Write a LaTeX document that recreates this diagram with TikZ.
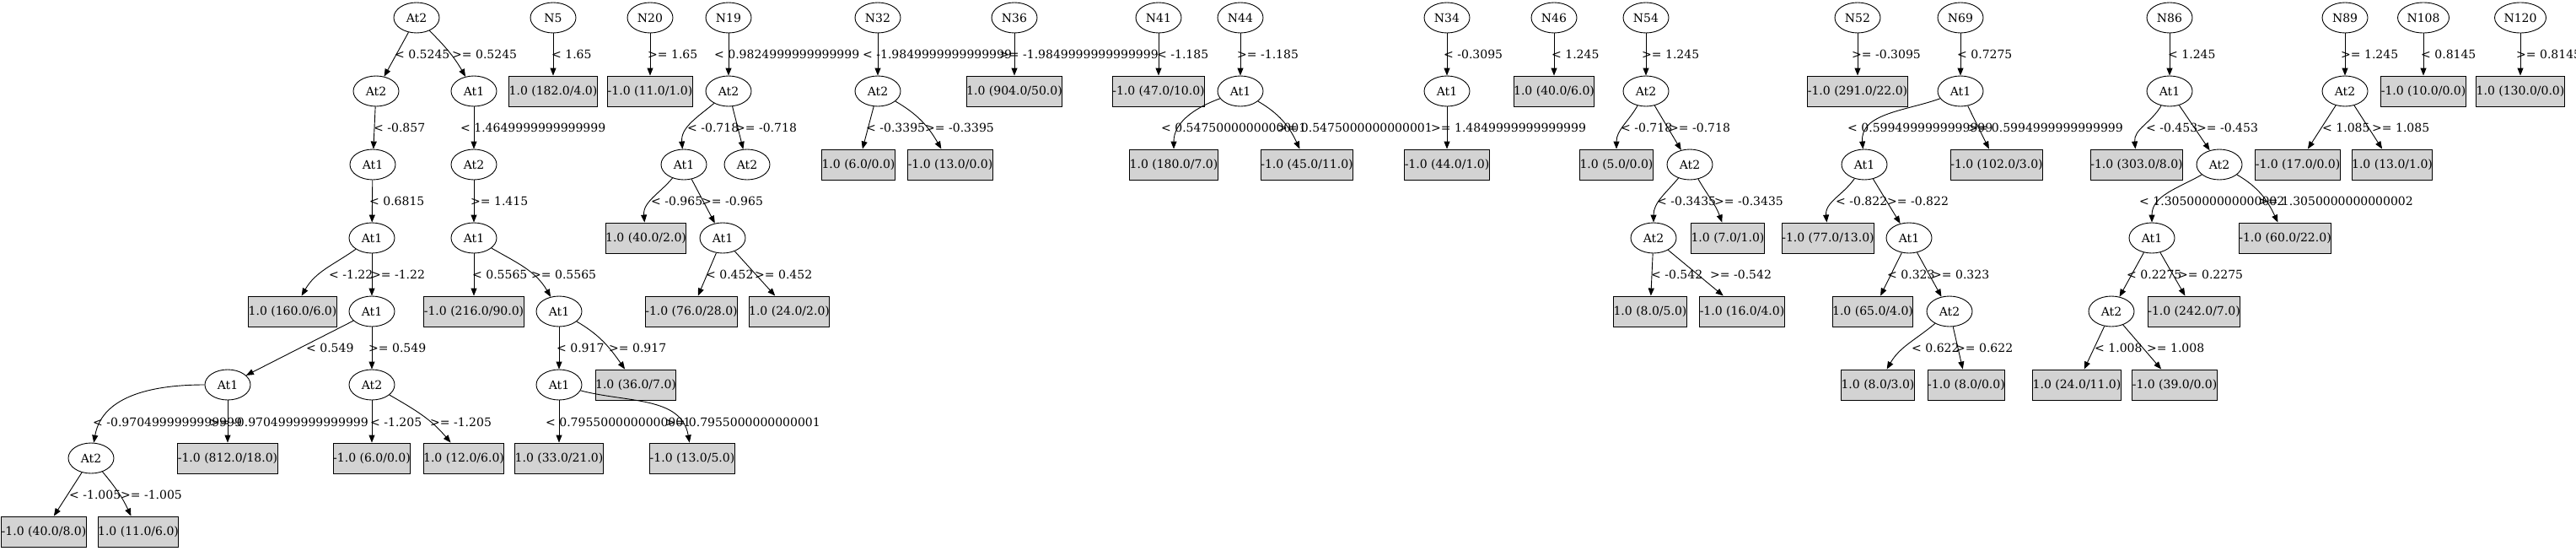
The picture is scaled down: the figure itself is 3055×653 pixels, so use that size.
\documentclass[tikz,border=0pt]{standalone}
\usepackage{fontspec}
\setmainfont{DejaVu Serif}
\usetikzlibrary{shapes.geometric,arrows.meta}
\definecolor{lg}{HTML}{D3D3D3}
\begin{document}
\begin{tikzpicture}[x=1pt,y=-1pt,
  every node/.style={font=\fontsize{14pt}{16pt}\selectfont},
  en/.style={ellipse,draw,line width=0.9pt,minimum width=54pt,minimum height=36pt,inner sep=0pt},
  lf/.style={rectangle,draw,line width=0.9pt,fill=lg,minimum height=36pt,inner sep=0pt},
  lb/.style={anchor=west,inner sep=0pt},
  lbe/.style={anchor=east,inner sep=0pt},
  ed/.style={draw,line width=0.9pt,-{Triangle[length=9pt,width=7pt]}}]
\useasboundingbox (0,0) rectangle (3055,653);
% ---------------- Tree 1
\node[en] (t1) at (494,21) {At2};
\node[en] (t1a) at (446,108) {At2};
\node[en] (t1b) at (562,108) {At1};
\node[en] (t1c) at (442,195) {At1};
\node[en] (t1d) at (441,282) {At1};
\node[lf,minimum width=98pt] (l160) at (347,369) {1.0 (160.0/6.0)};
\node[en] (t1e) at (441,369) {At1};
\node[en] (t1f) at (270,456) {At1};
\node[en] (t1g) at (441,456) {At2};
\node[en] (t1h) at (108,543) {At2};
\node[lf,minimum width=111pt] (l812) at (270,543) {-1.0 (812.0/18.0)};
\node[lf,minimum width=89pt] (l6a) at (441,543) {-1.0 (6.0/0.0)};
\node[lf,minimum width=93pt] (l12) at (550,543) {1.0 (12.0/6.0)};
\node[lf,minimum width=97pt] (l40a) at (52,630) {-1.0 (40.0/8.0)};
\node[lf,minimum width=92pt] (l11a) at (164,630) {1.0 (11.0/6.0)};
\node[en] (t1i) at (562,195) {At2};
\node[en] (t1j) at (562,282) {At1};
\node[lf,minimum width=111pt] (l216) at (562,369) {-1.0 (216.0/90.0)};
\node[en] (t1k) at (663,369) {At1};
\node[en] (t1l) at (663,456) {At1};
\node[lf,minimum width=92pt] (l36) at (754,456) {1.0 (36.0/7.0)};
\node[lf,minimum width=99pt] (l33) at (663,543) {1.0 (33.0/21.0)};
\node[lf,minimum width=96pt] (l13a) at (821,543) {-1.0 (13.0/5.0)};
\path (t1) edge[ed] (t1a) edge[ed,out=-45,in=120] (t1b);
\path (t1a) edge[ed] (t1c);
\path (t1c) edge[ed] (t1d);
\path (t1d) edge[ed,out=-145,in=60] (l160) edge[ed] (t1e);
\path (t1e) edge[ed] (t1f) edge[ed] (t1g);
\path (t1f) edge[ed,out=180,in=80] (t1h) edge[ed] (l812);
\path (t1g) edge[ed] (l6a) edge[ed,out=-30,in=130] (l12);
\path (t1h) edge[ed] (l40a) edge[ed,out=-50,in=115] (l11a);
\path (t1b) edge[ed] (t1i);
\path (t1i) edge[ed] (t1j);
\path (t1j) edge[ed] (l216) edge[ed,out=-30,in=120] (t1k);
\path (t1k) edge[ed] (t1l) edge[ed,out=-30,in=125] (l36);
\path (t1l) edge[ed] (l33) edge[ed,out=-15,in=100] (l13a);
\node[lb] at (468,64) {< 0.5245};
\node[lb] at (536,64) {>= 0.5245};
\node[lb] at (443,151) {< -0.857};
\node[lb] at (546,151) {< 1.4649999999999999};
\node[lb] at (438,238) {< 0.6815};
\node[lb] at (558,238) {>= 1.415};
\node[lb] at (390,325) {< -1.22};
\node[lb] at (440,325) {>= -1.22};
\node[lb] at (560,325) {< 0.5565};
\node[lb] at (630,325) {>= 0.5565};
\node[lb] at (363,412) {< 0.549};
\node[lb] at (437,412) {>= 0.549};
\node[lb] at (660,412) {< 0.917};
\node[lb] at (722,412) {>= 0.917};
\node[lb] at (110,500) {< -0.9704999999999999};
\node[lbe] at (437,500) {>= -0.9704999999999999};
\node[lb] at (439,500) {< -1.205};
\node[lb] at (510,500) {>= -1.205};
\node[lb] at (647,500) {< 0.7955000000000001};
\node[lbe] at (973,500) {>= 0.7955000000000001};
\node[lb] at (82,586) {< -1.005};
\node[lb] at (143,586) {>= -1.005};
% ---------------- N5, N20
\node[en] (n5) at (656,21) {N5};
\node[lf,minimum width=98pt] (l182) at (656,108) {1.0 (182.0/4.0)};
\path (n5) edge[ed] (l182);
\node[lb] at (654,64) {< 1.65};
\node[en] (n20) at (771,21) {N20};
\node[lf,minimum width=96pt] (l11b) at (771,108) {-1.0 (11.0/1.0)};
\path (n20) edge[ed] (l11b);
\node[lb] at (768,64) {>= 1.65};
% ---------------- N19
\node[en] (n19) at (864,21) {N19};
\node[en] (b1) at (864,108) {At2};
\node[en] (b2) at (811,195) {At1};
\node[en] (b3) at (886,195) {At2};
\node[lf,minimum width=92pt] (l40b) at (766,282) {1.0 (40.0/2.0)};
\node[en] (b4) at (857,282) {At1};
\node[lf,minimum width=103pt] (l76) at (820,369) {-1.0 (76.0/28.0)};
\node[lf,minimum width=92pt] (l24a) at (936,369) {1.0 (24.0/2.0)};
\path (n19) edge[ed] (b1);
\path (b1) edge[ed,out=-140,in=95] (b2) edge[ed] (b3);
\path (b2) edge[ed,out=-130,in=95] (l40b) edge[ed] (b4);
\path (b4) edge[ed] (l76) edge[ed] (l24a);
\node[lb] at (847,64) {< 0.9824999999999999};
\node[lb] at (815,151) {< -0.718};
\node[lb] at (872,151) {>= -0.718};
\node[lb] at (772,238) {< -0.965};
\node[lb] at (832,238) {>= -0.965};
\node[lb] at (837,325) {< 0.452};
\node[lb] at (895,325) {>= 0.452};
% ---------------- N32
\node[en] (n32) at (1041,21) {N32};
\node[en] (c1) at (1041,108) {At2};
\node[lf,minimum width=86pt] (l6b) at (1018,195) {1.0 (6.0/0.0)};
\node[lf,minimum width=96pt] (l13b) at (1127,195) {-1.0 (13.0/0.0)};
\path (n32) edge[ed] (c1);
\path (c1) edge[ed] (l6b) edge[ed,out=-30,in=120] (l13b);
\node[lb] at (1023,64) {< -1.9849999999999999};
\node[lb] at (1027,151) {< -0.3395};
\node[lb] at (1097,151) {>= -0.3395};
% ---------------- N36, N41
\node[en] (n36) at (1203,21) {N36};
\node[lf,minimum width=104pt] (l904) at (1203,108) {1.0 (904.0/50.0)};
\path (n36) edge[ed] (l904);
\node[lb] at (1185,64) {>= -1.9849999999999999};
\node[en] (n41) at (1374,21) {N41};
\node[lf,minimum width=103pt] (l47) at (1374,108) {-1.0 (47.0/10.0)};
\path (n41) edge[ed] (l47);
\node[lb] at (1372,64) {< -1.185};
% ---------------- N44
\node[en] (n44) at (1471,21) {N44};
\node[en] (d1) at (1471,108) {At1};
\node[lf,minimum width=98pt] (l180) at (1392,195) {1.0 (180.0/7.0)};
\node[lf,minimum width=104pt] (l45) at (1550,195) {-1.0 (45.0/11.0)};
\path (n44) edge[ed] (d1);
\path (d1) edge[ed,out=-160,in=90] (l180) edge[ed,out=-30,in=115] (l45);
\node[lb] at (1467,64) {>= -1.185};
\node[lb] at (1377,151) {< 0.5475000000000001};
\node[lbe] at (1699,151) {>= 0.5475000000000001};
% ---------------- N34
\node[en] (n34) at (1716,21) {N34};
\node[en] (e1) at (1716,108) {At1};
\node[lf,minimum width=97pt] (l44) at (1716,195) {-1.0 (44.0/1.0)};
\path (n34) edge[ed] (e1);
\path (e1) edge[ed] (l44);
\node[lb] at (1712,64) {< -0.3095};
\node[lb] at (1697,151) {>= 1.4849999999999999};
% ---------------- N46
\node[en] (n46) at (1843,21) {N46};
\node[lf,minimum width=92pt] (l40c) at (1843,108) {1.0 (40.0/6.0)};
\path (n46) edge[ed] (l40c);
\node[lb] at (1840,64) {< 1.245};
% ---------------- N54
\node[en] (n54) at (1952,21) {N54};
\node[en] (f1) at (1952,108) {At2};
\node[lf,minimum width=85pt] (l5) at (1917,195) {1.0 (5.0/0.0)};
\node[en] (f2) at (2004,195) {At2};
\node[en] (f3) at (1961,282) {At2};
\node[lf,minimum width=85pt] (l7) at (2049,282) {1.0 (7.0/1.0)};
\node[lf,minimum width=85pt] (l8a) at (1957,369) {1.0 (8.0/5.0)};
\node[lf,minimum width=97pt] (l16) at (2066,369) {-1.0 (16.0/4.0)};
\path (n54) edge[ed] (f1);
\path (f1) edge[ed,out=-120,in=90] (l5) edge[ed] (f2);
\path (f2) edge[ed,out=-130,in=90] (f3) edge[ed,out=-60,in=110] (l7);
\path (f3) edge[ed] (l8a) edge[ed] (l16);
\node[lb] at (1947,64) {>= 1.245};
\node[lb] at (1922,151) {< -0.718};
\node[lb] at (1979,151) {>= -0.718};
\node[lb] at (1965,238) {< -0.3435};
\node[lb] at (2033,238) {>= -0.3435};
\node[lb] at (1958,325) {< -0.542};
\node[lb] at (2028,325) {>= -0.542};
% ---------------- N52
\node[en] (n52) at (2203,21) {N52};
\node[lf,minimum width=111pt] (l291) at (2203,108) {-1.0 (291.0/22.0)};
\path (n52) edge[ed] (l291);
\node[lb] at (2196,64) {>= -0.3095};
% ---------------- N69
\node[en] (n69) at (2325,21) {N69};
\node[en] (g1) at (2325,108) {At1};
\node[en] (g2) at (2211,195) {At1};
\node[lf,minimum width=103pt] (l102) at (2368,195) {-1.0 (102.0/3.0)};
\node[lf,minimum width=103pt] (l77) at (2168,282) {-1.0 (77.0/13.0)};
\node[en] (g3) at (2264,282) {At1};
\node[lf,minimum width=92pt] (l65) at (2221,369) {1.0 (65.0/4.0)};
\node[en] (g4) at (2312,369) {At2};
\node[lf,minimum width=85pt] (l8b) at (2227,456) {1.0 (8.0/3.0)};
\node[lf,minimum width=88pt] (l8c) at (2332,456) {-1.0 (8.0/0.0)};
\path (n69) edge[ed] (g1);
\path (g1) edge[ed,out=-160,in=95] (g2) edge[ed] (l102);
\path (g2) edge[ed,out=-125,in=95] (l77) edge[ed] (g3);
\path (g3) edge[ed] (l65) edge[ed] (g4);
\path (g4) edge[ed,out=-140,in=60] (l8b) edge[ed] (l8c);
\node[lb] at (2321,64) {< 0.7275};
\node[lb] at (2191,151) {< 0.5994999999999999};
\node[lbe] at (2518,151) {>= 0.5994999999999999};
\node[lb] at (2177,238) {< -0.822};
\node[lb] at (2238,238) {>= -0.822};
\node[lb] at (2238,325) {< 0.323};
\node[lb] at (2291,325) {>= 0.323};
\node[lb] at (2267,412) {< 0.622};
\node[lb] at (2319,412) {>= 0.622};
% ---------------- N86
\node[en] (n86) at (2573,21) {N86};
\node[en] (h1) at (2573,108) {At1};
\node[lf,minimum width=103pt] (l303) at (2534,195) {-1.0 (303.0/8.0)};
\node[en] (h2) at (2632,195) {At2};
\node[en] (h3) at (2552,282) {At1};
\node[lf,minimum width=103pt] (l60) at (2710,282) {-1.0 (60.0/22.0)};
\node[en] (h4) at (2504,369) {At2};
\node[lf,minimum width=103pt] (l242) at (2602,369) {-1.0 (242.0/7.0)};
\node[lf,minimum width=99pt] (l24b) at (2463,456) {1.0 (24.0/11.0)};
\node[lf,minimum width=97pt] (l39) at (2579,456) {-1.0 (39.0/0.0)};
\path (n86) edge[ed] (h1);
\path (h1) edge[ed,out=-120,in=95] (l303) edge[ed] (h2);
\path (h2) edge[ed,out=-150,in=90] (h3) edge[ed,out=-30,in=115] (l60);
\path (h3) edge[ed] (h4) edge[ed] (l242);
\path (h4) edge[ed] (l24b) edge[ed] (l39);
\node[lb] at (2571,64) {< 1.245};
\node[lb] at (2545,151) {< -0.453};
\node[lb] at (2605,151) {>= -0.453};
\node[lb] at (2537,238) {< 1.3050000000000002};
\node[lbe] at (2862,238) {>= 1.3050000000000002};
\node[lb] at (2522,325) {< 0.2275};
\node[lb] at (2583,325) {>= 0.2275};
\node[lb] at (2484,412) {< 1.008};
\node[lb] at (2546,412) {>= 1.008};
% ---------------- N89
\node[en] (n89) at (2781,21) {N89};
\node[en] (i1) at (2781,108) {At2};
\node[lf,minimum width=97pt] (l17) at (2725,195) {-1.0 (17.0/0.0)};
\node[lf,minimum width=92pt] (l13c) at (2837,195) {1.0 (13.0/1.0)};
\path (n89) edge[ed] (i1);
\path (i1) edge[ed] (l17) edge[ed] (l13c);
\node[lb] at (2776,64) {>= 1.245};
\node[lb] at (2754,151) {< 1.085};
\node[lb] at (2813,151) {>= 1.085};
% ---------------- N108, N120
\node[en,minimum width=61pt] (n108) at (2874,21) {N108};
\node[lf,minimum width=97pt] (l10) at (2874,108) {-1.0 (10.0/0.0)};
\path (n108) edge[ed] (l10);
\node[lb] at (2871,64) {< 0.8145};
\node[en,minimum width=61pt] (n120) at (2989,21) {N120};
\node[lf,minimum width=98pt] (l130) at (2989,108) {1.0 (130.0/0.0)};
\path (n120) edge[ed] (l130);
\node[lb] at (2984,64) {>= 0.8145};
\end{tikzpicture}
\end{document}
